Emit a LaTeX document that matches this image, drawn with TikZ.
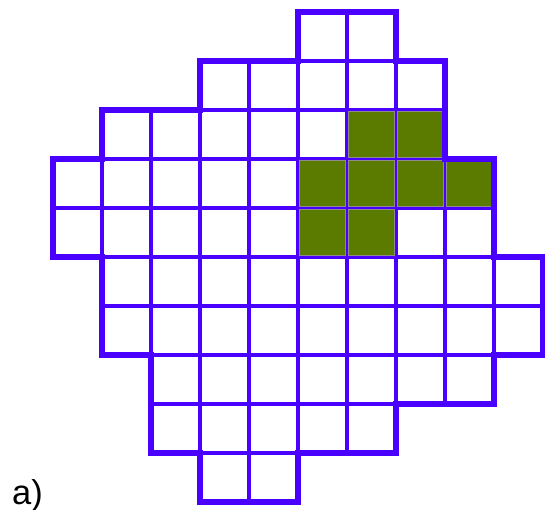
\documentclass[tikz,border=0pt]{standalone}
\usepackage{fontspec}
\setmainfont{Liberation Sans}
\usetikzlibrary{positioning}
\definecolor{gridBlue}{HTML}{4A00FF}
\definecolor{cellGreen}{HTML}{5A7A00}
\definecolor{cellEdge}{HTML}{8C8C8C}

\begin{document}
\begin{tikzpicture}[
  thinL/.style={draw=gridBlue, line width=1.9pt},
  thickL/.style={draw=gridBlue, line width=3.4pt, line join=miter},
  hotCell/.style={fill=cellGreen, draw=cellEdge, line width=0.4pt},
]
  \useasboundingbox (-1.082,-0.163) rectangle (10.041,10.245);

  % cells: row / first col / last col
  \foreach \r/\a/\b in {0/5/6, 1/3/7, 2/1/7, 3/0/8, 4/0/8,
                        5/1/9, 6/1/9, 7/2/8, 8/2/6, 9/3/4}
    \foreach \c in {\a,...,\b}
      \draw[thinL] (\c,9-\r) rectangle ++(1,1);

  % green cells
  \foreach \c/\r in {6/2, 7/2, 5/3, 6/3, 7/3, 8/3, 5/4, 6/4}
    \draw[hotCell] (\c+0.035,{9.035-\r}) rectangle ++(0.93,0.93);

  % outer border
  \draw[thickL] (5,10) -- (7,10) -- (7,9) -- (8,9) -- (8,7) -- (9,7)
    -- (9,5) -- (10,5) -- (10,3) -- (9,3) -- (9,2) -- (7,2) -- (7,1)
    -- (5,1) -- (5,0) -- (3,0) -- (3,1) -- (2,1) -- (2,3) -- (1,3)
    -- (1,5) -- (0,5) -- (0,7) -- (1,7) -- (1,8) -- (3,8) -- (3,9)
    -- (5,9) -- cycle;

  \node[font=\fontsize{20}{24}\selectfont, anchor=base west, inner sep=0pt]
    (lbl) at (-0.84,-0.06) {a)};
\end{tikzpicture}
\end{document}
